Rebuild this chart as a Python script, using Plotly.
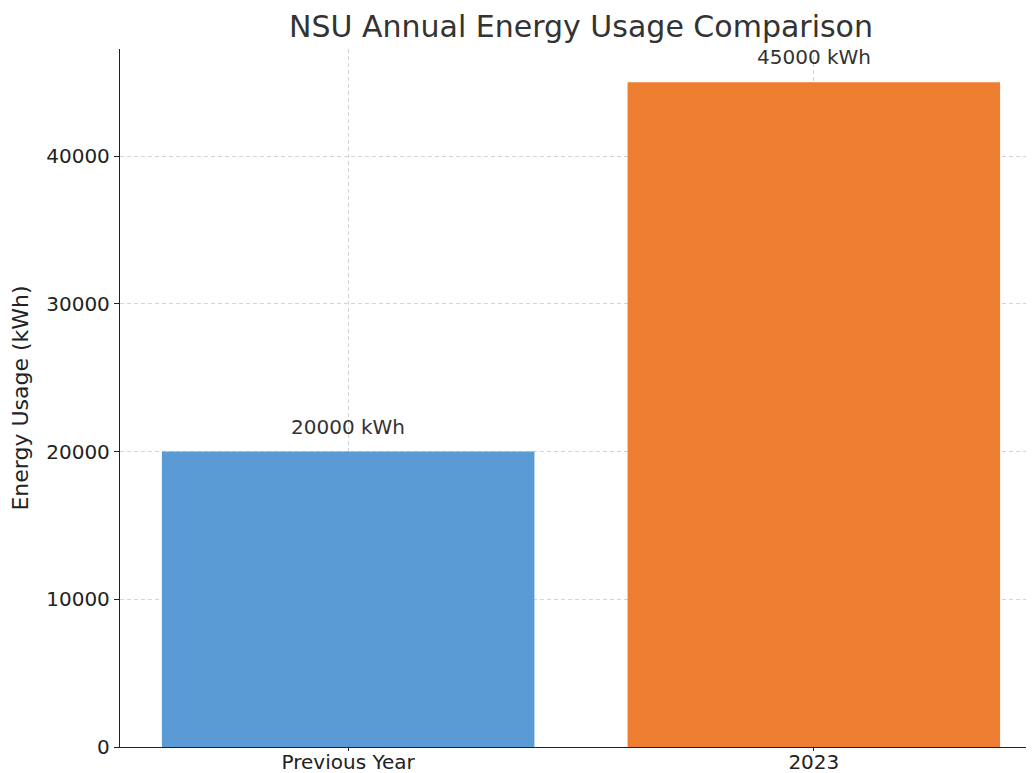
import plotly.graph_objects as go

# data
periods = ["Previous Year", "2023"]
usage_kwh = [20000, 45000]
bar_colors = ["#5B9BD5", "#ED7D31"]
y_ticks = [0, 10000, 20000, 30000, 40000]

fig = go.Figure()

fig.add_trace(go.Bar(
    x=periods,
    y=usage_kwh,
    marker=dict(color=bar_colors, line=dict(width=0)),
    width=0.8,
    showlegend=False,
))

# value labels sitting just above each bar
for i, v in enumerate(usage_kwh):
    fig.add_annotation(
        x=i, y=v + 1000, text=f"{v} kWh",
        showarrow=False, yanchor="bottom", yshift=-4,
        font=dict(size=20, color="#333333"),
    )

# the page body adds an 8px offset, so margins are shifted to compensate
fig.update_layout(
    width=1034,
    height=773,
    margin=dict(l=112, r=0, t=41, b=34),
    paper_bgcolor="white",
    plot_bgcolor="white",
    font=dict(family="DejaVu Sans", color="#222222"),
    title=dict(
        text="NSU Annual Energy Usage Comparison",
        x=573 / 1034, xanchor="center",
        y=1 - 18 / 773, yanchor="middle",
        font=dict(size=30, color="#333333"),
    ),
    bargap=0.2,
)

fig.update_xaxes(
    type="category",
    range=[-0.49, 1.49],
    automargin=False,
    showline=True, linecolor="#222222", linewidth=1.3,
    ticks="outside", ticklen=3, tickcolor="#222222",
    ticklabelstandoff=-6,
    tickfont=dict(size=20),
    showgrid=True, gridcolor="#d4d4d4", griddash="4px,3px", gridwidth=1,
    zeroline=False,
)
fig.update_yaxes(
    range=[0, 47250],
    tickvals=y_ticks,
    tickformat="d",
    automargin=False,
    showline=True, linecolor="#222222", linewidth=1.3,
    ticks="outside", ticklen=5, tickcolor="#222222",
    tickfont=dict(size=20),
    showgrid=True, gridcolor="#d4d4d4", griddash="4px,3px", gridwidth=1,
    zeroline=False,
    title=dict(text="Energy Usage (kWh)", font=dict(size=22), standoff=12),
)

fig.write_html("out.html")
